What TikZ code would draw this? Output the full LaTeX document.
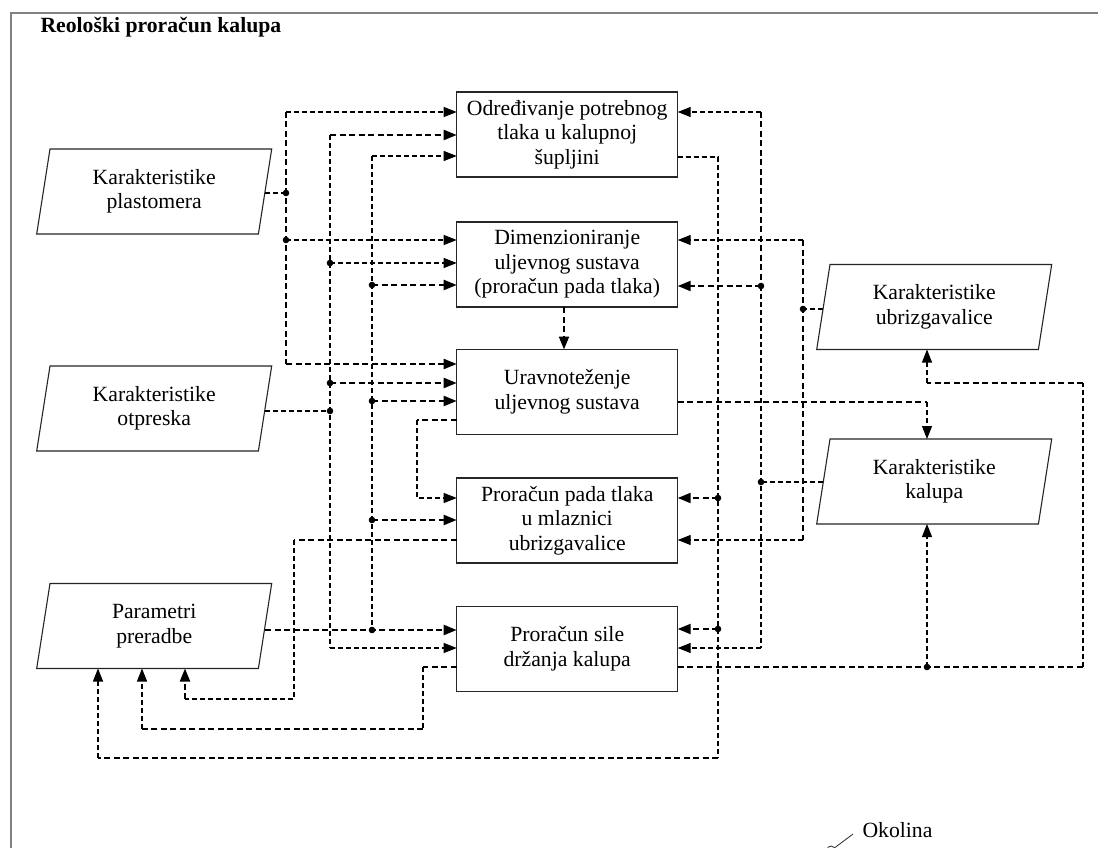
\documentclass[tikz,border=0pt]{standalone}
\usepackage{fontspec}
\setmainfont{Liberation Serif}
\usetikzlibrary{arrows.meta,calc}
\newcommand\drawpara[1]{%
  \draw[parline] ($(#1.north west)+(6.65,0)$) -- ($(#1.north east)+(6.65,0)$) --
    ($(#1.south east)+(-6.65,0)$) -- ($(#1.south west)+(-6.65,0)$) -- cycle;}
\newcommand\jdot[1]{\fill[black] (#1) circle[radius=3.3];}
\begin{document}
\begin{tikzpicture}[x=1pt,y=-1pt,
  every node/.style={font=\fontsize{21.7}{24.5}\selectfont},
  box/.style={draw=black!85, line width=1.2pt, minimum width=221pt, minimum height=85pt,
    align=center, inner sep=0pt, outer sep=0pt},
  para/.style={minimum width=221.7pt, minimum height=85pt, align=center,
    inner sep=0pt, outer sep=0pt},
  parline/.style={draw=black!85, line width=1.1pt},
  th/.style={line width=1.1pt, dash pattern=on 5pt off 3pt, black},
  tk/.style={line width=2.1pt, dash pattern=on 6pt off 3.5pt, black},
  arr/.style={-{Triangle[length=13pt,width=10pt]}}
]
\useasboundingbox (0,0) rectangle (1098,848);
\fill[white] (0,0) rectangle (1098,848);
% frame
\draw[black!50, line width=2pt] (11,848) -- (11,13) -- (1098,13);
\node[anchor=base west, font=\fontsize{21.7}{24.5}\selectfont\bfseries] (title) at (37,33) {Reološki proračun kalupa};

% boxes
\node[box] (b1) at (567.2,134.5) {Određivanje potrebnog\\tlaka u kalupnoj\\šupljini};
\node[box] (b2) at (567.2,264.5) {Dimenzioniranje\\uljevnog sustava\\(proračun pada tlaka)};
\node[box] (b3) at (567.2,392) {Uravnoteženje\\uljevnog sustava};
\node[box] (b4) at (567.2,520.5) {Proračun pada tlaka\\u mlaznici\\ubrizgavalice};
\node[box] (b5) at (567.2,649) {Proračun sile\\držanja kalupa};

% parallelograms
\node[para] (plast) at (154.2,191.5) {Karakteristike\\plastomera};
\node[para] (otp) at (154.2,408.5) {Karakteristike\\otpreska};
\node[para] (param) at (154.2,626) {Parametri\\preradbe};
\node[para] (ubr) at (934.2,307) {Karakteristike\\ubrizgavalice};
\node[para] (kal) at (934.2,481.5) {Karakteristike\\kalupa};
\drawpara{plast}\drawpara{otp}\drawpara{param}\drawpara{ubr}\drawpara{kal}

% bus A (plastomer)
\coordinate (A1) at (286,112);
\coordinate (A2) at (286,364);
\coordinate (Ap) at (286,193);
\coordinate (Ab) at (286,240);
\draw[th] (plast.east |- Ap) -- (Ap);
\draw[tk] (A1) -- (A2);
\draw[th,arr] (A1) -- (b1.west |- A1);
\draw[th,arr] (Ab) -- (b2.west |- Ab);
\draw[tk,arr] (A2) -- (b3.west |- A2);
\jdot{Ap}\jdot{Ab}

% bus B (otpresak)
\coordinate (B1) at (330,135);
\coordinate (Bb2) at (330,263);
\coordinate (Bb3) at (330,383);
\coordinate (Bo) at (330,411);
\coordinate (B5) at (330,648);
\draw[th] (B1) -- (B5);
\draw[tk,arr] (B1) -- (b1.west |- B1);
\draw[th,arr] (Bb2) -- (b2.west |- Bb2);
\draw[tk,arr] (Bb3) -- (b3.west |- Bb3);
\draw[th] (otp.east |- Bo) -- (Bo);
\draw[th,arr] (B5) -- (b5.west |- B5);
\jdot{Bb2}\jdot{Bb3}\jdot{Bo}

% bus C (parametri)
\coordinate (C1) at (372,156);
\coordinate (Cb2) at (372,285);
\coordinate (Cb3) at (372,401);
\coordinate (Cb4) at (372,520);
\coordinate (Cp) at (372,630);
\draw[th] (C1) -- (Cp);
\draw[th,arr] (C1) -- (b1.west |- C1);
\draw[tk,arr] (Cb2) -- (b2.west |- Cb2);
\draw[tk,arr] (Cb3) -- (b3.west |- Cb3);
\draw[tk,arr] (Cb4) -- (b4.west |- Cb4);
\draw[tk,arr] (param.east |- Cp) -- (b5.west |- Cp);
\jdot{Cb2}\jdot{Cb3}\jdot{Cb4}\jdot{Cp}

% b3 -> b4
\coordinate (D1) at (417,420);
\coordinate (D2) at (417,498);
\draw[tk] (b3.west |- D1) -- (D1);
\draw[th,arr] (D1) -- (D2) -- (b4.west |- D2);

% b4 -> param
\coordinate (E1) at (294,540);
\coordinate (E2) at (294,699);
\coordinate (E3) at (185,699);
\draw[tk] (b4.west |- E1) -- (E1);
\draw[th] (E1) -- (E2) -- (E3);
\draw[tk,arr] (E3) -- (param.south -| E3);

% b5 -> param
\coordinate (F1) at (423,667);
\coordinate (F2) at (423,729);
\coordinate (F3) at (142,729);
\draw[tk] (b5.west |- F1) -- (F1);
\draw[th] (F1) -- (F2);
\draw[tk] (F2) -- (F3);
\draw[th,arr] (F3) -- (param.south -| F3);

% b1 -> param, b4, b5
\coordinate (G1) at (718,157);
\coordinate (G2) at (718,758);
\coordinate (G3) at (98,758);
\coordinate (Gb4) at (718,498);
\coordinate (Gb5) at (718,629);
\draw[th] (b1.east |- G1) -- (G1) -- (G2);
\draw[tk] (G2) -- (G3);
\draw[th,arr] (G3) -- (param.south -| G3);
\draw[tk,arr] (Gb4) -- (b4.east |- Gb4);
\draw[tk,arr] (Gb5) -- (b5.east |- Gb5);
\jdot{Gb4}\jdot{Gb5}

% bus H (kalup)
\coordinate (H1) at (761,112);
\coordinate (Hb2) at (761,286);
\coordinate (Hk) at (761,482);
\coordinate (H5) at (761,648);
\draw[tk] (H1) -- (Hb2);
\draw[th] (Hb2) -- (H5);
\draw[th,arr] (H1) -- (b1.east |- H1);
\draw[tk,arr] (Hb2) -- (b2.east |- Hb2);
\draw[th] (kal.west |- Hk) -- (Hk);
\draw[th,arr] (H5) -- (b5.east |- H5);
\jdot{Hb2}\jdot{Hk}

% bus I (ubrizgavalica)
\coordinate (I1) at (803,240);
\coordinate (Iu) at (803,309);
\coordinate (I4) at (803,540);
\draw[tk] (I1) -- (I4);
\draw[th,arr] (I1) -- (b2.east |- I1);
\draw[th] (ubr.west |- Iu) -- (Iu);
\draw[th,arr] (I4) -- (b4.east |- I4);
\jdot{Iu}

% b2 -> b3
\coordinate (M) at (564,300);
\draw[tk,arr] (b2.south -| M) -- (b3.north -| M);

% b3 -> kal
\coordinate (J1) at (927,402);
\draw[tk] (b3.east |- J1) -- (J1);
\draw[th,arr] (J1) -- (kal.north -| J1);

% b5 -> ubr, kal
\coordinate (K1) at (1083,667);
\coordinate (K2) at (1083,383);
\coordinate (K3) at (927,383);
\coordinate (Kd) at (927,667);
\draw[tk] (b5.east |- K1) -- (K1);
\draw[th] (K1) -- (K2);
\draw[tk] (K2) -- (K3);
\draw[th,arr] (K3) -- (ubr.south -| K3);
\draw[th,arr] (Kd) -- (kal.south -| Kd);
\jdot{Kd}

% Okolina
\node[anchor=base west] (okol) at (859,837) {Okolina};
\coordinate (okc) at (831,850);
\coordinate (okl) at (853,834);
\draw[black!85, line width=0.8pt] (okc) circle[radius=4];
\draw[black!85, line width=0.8pt] ($(okc)+(3.4,-2)$) -- (okl);
\end{tikzpicture}
\end{document}
